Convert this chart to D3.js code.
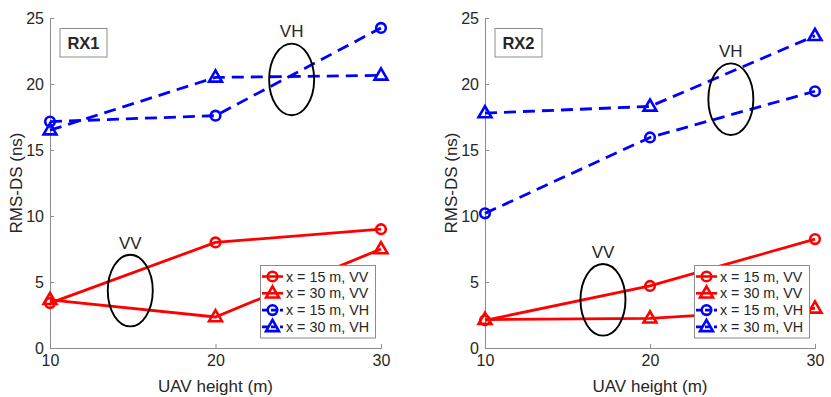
<!DOCTYPE html>
<html>
<head>
<meta charset="utf-8">
<script src="https://cdn.jsdelivr.net/npm/d3@7"></script>
<style>
  body { margin: 0; background: #fff; }
  text { font-family: "Liberation Sans", Arial, sans-serif; fill: #262626; }
</style>
</head>
<body>
<div id="chart"></div>
<script>
// UAV heights (m)
var heights = [10, 20, 30];
var xTicks = [10, 20, 30];
var yTicks = [0, 5, 10, 15, 20, 25];

var seriesNames = ["x = 15 m, VV", "x = 30 m, VV", "x = 15 m, VH", "x = 30 m, VH"];

// RMS-DS (ns), RX1
var rx1_15VV = [3.4, 8.0, 9.0];
var rx1_30VV = [3.65, 2.35, 7.5];
var rx1_15VH = [17.15, 17.6, 24.25];
var rx1_30VH = [16.5, 20.5, 20.65];

// RMS-DS (ns), RX2
var rx2_15VV = [2.1, 4.7, 8.25];
var rx2_30VV = [2.15, 2.25, 3.0];
var rx2_15VH = [10.2, 15.95, 19.45];
var rx2_30VH = [17.8, 18.3, 23.65];

// ellipse annotations (data coords)
var rx1Notes = [{label: "VV", x: 14.85, y: 4.35}, {label: "VH", x: 24.6, y: 20.35}];
var rx2Notes = [{label: "VV", x: 17.15, y: 3.65}, {label: "VH", x: 24.9, y: 18.85}];

var width = 831, height = 397;

var svg = d3.select("#chart").append("svg")
    .attr("width", width)
    .attr("height", height);

var styles = [
    {color: "#ff0000", dash: null, marker: "circle"},
    {color: "#ff0000", dash: null, marker: "triangle"},
    {color: "#0000ff", dash: "12,7", marker: "circle"},
    {color: "#0000ff", dash: "12,7", marker: "triangle"}
];

function drawMarker(g, type, x, y, color) {
    if (type === "circle") {
        g.append("circle")
            .attr("cx", x).attr("cy", y).attr("r", 4.8)
            .attr("fill", "none").attr("stroke", color).attr("stroke-width", 2.6);
    } else {
        g.append("path")
            .attr("d", d3.symbol().type(d3.symbolTriangle).size(72)())
            .attr("transform", "translate(" + x + "," + (y + 0.5) + ")")
            .attr("fill", "none").attr("stroke", color).attr("stroke-width", 2.6)
            .attr("stroke-linejoin", "miter");
    }
}

function panel(left, right, name, series, notes) {
    var x = d3.scaleLinear().domain([10, 30]).range([left, right]);
    var y = d3.scaleLinear().domain([0, 25]).range([348, 18]);
    var g = svg.append("g");

    // axes
    var xAxis = g.append("g")
        .attr("transform", "translate(0,348)")
        .call(d3.axisBottom(x).tickValues(xTicks).tickSize(-4).tickPadding(7));
    var yAxis = g.append("g")
        .attr("transform", "translate(" + left + ",0)")
        .call(d3.axisLeft(y).tickValues(yTicks).tickSize(-4).tickPadding(6));
    [xAxis, yAxis].forEach(function (a) {
        a.select(".domain").attr("stroke", "#8c8c8c").attr("stroke-width", 1);
        a.selectAll(".tick line").attr("stroke", "#8c8c8c");
        a.selectAll(".tick text")
            .style("font-size", "16px")
            .style("font-family", "'Liberation Sans', Arial, sans-serif")
            .attr("fill", "#262626");
    });
    xAxis.selectAll(".tick text").attr("dy", "0.71em");

    g.append("text")
        .attr("x", (left + right) / 2).attr("y", 392)
        .attr("text-anchor", "middle")
        .style("font-size", "17px")
        .text("UAV height (m)");
    g.append("text")
        .attr("transform", "translate(" + (left - 28) + "," + y(12.5) + ") rotate(-90)")
        .attr("text-anchor", "middle")
        .style("font-size", "17px")
        .text("RMS-DS (ns)");

    var line = d3.line()
        .x(function (d, i) { return x(heights[i]); })
        .y(function (d) { return y(d); });

    series.forEach(function (s, k) {
        var st = styles[k];
        g.append("path")
            .datum(s)
            .attr("d", line)
            .attr("fill", "none")
            .attr("stroke", st.color)
            .attr("stroke-width", 2.8)
            .attr("stroke-dasharray", st.dash);
        s.forEach(function (v, i) {
            drawMarker(g, st.marker, x(heights[i]), y(v), st.color);
        });
    });

    // ellipses with labels
    notes.forEach(function (n) {
        g.append("ellipse")
            .attr("cx", x(n.x)).attr("cy", y(n.y))
            .attr("rx", 22.5).attr("ry", 35.8)
            .attr("fill", "none").attr("stroke", "#000").attr("stroke-width", 1.9);
        g.append("text")
            .attr("x", x(n.x)).attr("y", y(n.y) - 42)
            .attr("text-anchor", "middle")
            .style("font-size", "17px")
            .attr("fill", "#000")
            .text(n.label);
    });

    // receiver box
    g.append("rect")
        .attr("x", left + 10).attr("y", 28.5)
        .attr("width", 47).attr("height", 28.5)
        .attr("fill", "#fff").attr("stroke", "#8c8c8c");
    g.append("text")
        .attr("x", left + 33.5).attr("y", 49)
        .attr("text-anchor", "middle")
        .style("font-size", "16.5px").style("font-weight", "bold")
        .attr("fill", "#000")
        .text(name);

    // legend
    var lg = g.append("g").attr("transform", "translate(" + (right - 121) + ",265)");
    lg.append("rect")
        .attr("x", 0.5).attr("y", 0.5).attr("width", 115).attr("height", 72.5)
        .attr("fill", "#fff").attr("stroke", "#8c8c8c");
    seriesNames.forEach(function (nm, k) {
        var st = styles[k];
        var cy = 11.5 + k * 16.8;
        lg.append("line")
            .attr("x1", 2).attr("x2", 23).attr("y1", cy).attr("y2", cy)
            .attr("stroke", st.color).attr("stroke-width", 2.6)
            .attr("stroke-dasharray", st.dash ? "6,3" : null);
        drawMarker(lg, st.marker, 12.5, cy, st.color);
        lg.append("text")
            .attr("x", 26).attr("y", cy + 5)
            .style("font-size", "14.3px")
            .attr("fill", "#000")
            .text(nm);
    });
}

panel(50, 381, "RX1", [rx1_15VV, rx1_30VV, rx1_15VH, rx1_30VH], rx1Notes);
panel(485, 815, "RX2", [rx2_15VV, rx2_30VV, rx2_15VH, rx2_30VH], rx2Notes);
</script>
</body>
</html>
